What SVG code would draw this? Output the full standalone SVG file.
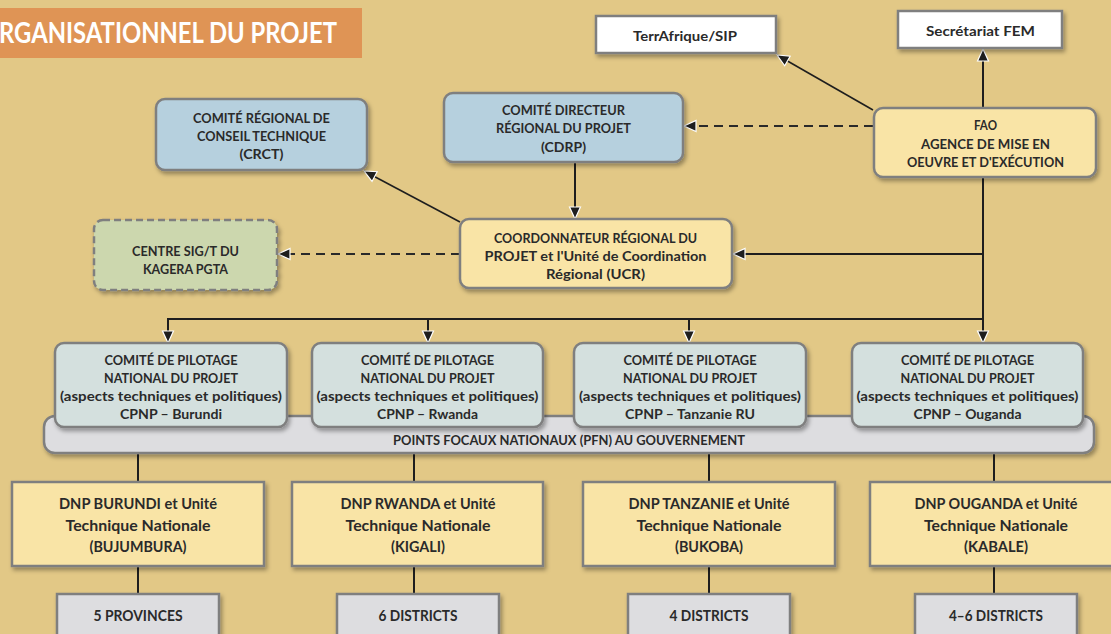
<svg xmlns="http://www.w3.org/2000/svg" width="1111" height="634" viewBox="0 0 1111 634">
<defs>
<filter id="sh" x="-10%" y="-10%" width="125%" height="135%">
<feDropShadow dx="2" dy="3" stdDeviation="2" flood-color="#000" flood-opacity="0.35"/>
</filter>
<marker id="ar" viewBox="0 0 14 14" refX="13" refY="7" markerWidth="14" markerHeight="14" markerUnits="userSpaceOnUse" orient="auto">
<path d="M1,1.5 L13,7 L1,12.5 Z" fill="#1e1e1e" stroke="#fff" stroke-width="1.2" stroke-linejoin="miter"/>
</marker>
</defs>
<style>
.bx{stroke:#7f7f7f;stroke-width:2.5;filter:url(#sh)}
.blue{fill:#b6d0de}
.yel{fill:#f9e4a6}
.pil{fill:#d4e0de}
.gry{fill:#dddde0}
.wht{fill:#ffffff}
.grn{fill:#ccd7ae;stroke-dasharray:7,4}
text{font-family:Lato,"Open Sans","Liberation Sans",sans-serif;font-weight:700;fill:#2a2a2a;text-anchor:middle;font-size:14px}
.big{font-size:15px}
.ln{fill:none;stroke:#1e1e1e;stroke-width:2}
.thin{fill:none;stroke:#1e1e1e;stroke-width:1.6}
.dash{fill:none;stroke:#2a2a2a;stroke-width:2;stroke-dasharray:9,6}
</style>
<rect x="0" y="0" width="1111" height="634" fill="#e2c886"/>
<g id="title">
<rect x="0" y="8" width="362" height="50" fill="#df9455"/>
<text x="-1" y="43" style="font-size:28px;fill:#fff;text-anchor:start" textLength="338" lengthAdjust="spacingAndGlyphs">RGANISATIONNEL DU PROJET</text>
</g>
<g id="connectors">
<line class="ln" x1="983" y1="108" x2="983" y2="49" marker-end="url(#ar)"/>
<line class="thin" x1="873" y1="110" x2="777" y2="55" marker-end="url(#ar)"/>
<line class="dash" x1="873" y1="126" x2="684" y2="126" marker-end="url(#ar)"/>
<line class="ln" x1="575" y1="162" x2="575" y2="219" marker-end="url(#ar)"/>
<line class="thin" x1="460" y1="222" x2="364" y2="171" marker-end="url(#ar)"/>
<line class="dash" x1="460" y1="254" x2="278" y2="254" marker-end="url(#ar)"/>
<path class="ln" d="M983,177 V254 H733" marker-end="url(#ar)"/>
<path class="ln" d="M983,250 V343" marker-end="url(#ar)"/>
<path class="ln" d="M983,319 H168 V343" marker-end="url(#ar)"/>
<path class="ln" d="M428,319 V343" marker-end="url(#ar)"/>
<path class="ln" d="M689,319 V343" marker-end="url(#ar)"/>
<path class="ln" d="M138,453 V482 M138,566 V594 M414,453 V482 M414,566 V594 M709,453 V482 M709,566 V594 M994,453 V482 M994,566 V594"/>
</g>
<g id="terrafrique">
<rect class="bx wht" x="596" y="16" width="180" height="37"/>
<text x="685" y="41" textLength="104" lengthAdjust="spacingAndGlyphs">TerrAfrique/SIP</text>
</g>
<g id="secretariat">
<rect class="bx wht" x="898" y="11" width="164" height="37"/>
<text x="980.5" y="35.5" textLength="109" lengthAdjust="spacingAndGlyphs">Secrétariat FEM</text>
</g>
<g id="fao">
<rect class="bx yel" x="874" y="108" width="222" height="69" rx="9"/>
<text x="985.5" y="130" textLength="23" lengthAdjust="spacingAndGlyphs">FAO</text>
<text x="985.5" y="148.5" textLength="129" lengthAdjust="spacingAndGlyphs">AGENCE DE MISE EN</text>
<text x="985.5" y="167" textLength="157" lengthAdjust="spacingAndGlyphs">OEUVRE ET D'EXÉCUTION</text>
</g>
<g id="cdrp">
<rect class="bx blue" x="444" y="93" width="239" height="69" rx="9"/>
<text x="563.5" y="115" textLength="123" lengthAdjust="spacingAndGlyphs">COMITÉ DIRECTEUR</text>
<text x="563.5" y="133" textLength="135" lengthAdjust="spacingAndGlyphs">RÉGIONAL DU PROJET</text>
<text x="563.5" y="152" textLength="45" lengthAdjust="spacingAndGlyphs">(CDRP)</text>
</g>
<g id="crct">
<rect class="bx blue" x="156" y="99" width="211" height="71" rx="9"/>
<text x="261.5" y="123" textLength="137" lengthAdjust="spacingAndGlyphs">COMITÉ RÉGIONAL DE</text>
<text x="261.5" y="141" textLength="129" lengthAdjust="spacingAndGlyphs">CONSEIL TECHNIQUE</text>
<text x="261.5" y="159" textLength="44" lengthAdjust="spacingAndGlyphs">(CRCT)</text>
</g>
<g id="ucr">
<rect class="bx yel" x="460" y="219" width="272" height="69" rx="9"/>
<text x="595.5" y="243" textLength="203" lengthAdjust="spacingAndGlyphs">COORDONNATEUR RÉGIONAL DU</text>
<text x="595.5" y="261" textLength="222" lengthAdjust="spacingAndGlyphs">PROJET et l'Unité de Coordination</text>
<text x="595.5" y="279" textLength="99" lengthAdjust="spacingAndGlyphs">Régional (UCR)</text>
</g>
<g id="centre">
<rect class="bx grn" x="94" y="220" width="183" height="70" rx="9"/>
<text x="185.5" y="256" textLength="107" lengthAdjust="spacingAndGlyphs">CENTRE SIG/T DU</text>
<text x="185.5" y="274" textLength="85" lengthAdjust="spacingAndGlyphs">KAGERA PGTA</text>
</g>
<g id="pfn">
<rect class="bx gry" x="44" y="416" width="1050" height="37" rx="11"/>
<text x="569" y="445" textLength="352" lengthAdjust="spacingAndGlyphs" style="font-size:13.5px">POINTS FOCAUX NATIONAUX (PFN) AU GOUVERNEMENT</text>
</g>
<g id="cpnp-burundi">
<rect class="bx pil" x="55" y="343" width="232" height="84" rx="9"/>
<text x="171" y="365" textLength="133" lengthAdjust="spacingAndGlyphs">COMITÉ DE PILOTAGE</text>
<text x="171" y="383" textLength="134" lengthAdjust="spacingAndGlyphs">NATIONAL DU PROJET</text>
<text x="171" y="401" textLength="222" lengthAdjust="spacingAndGlyphs">(aspects techniques et politiques)</text>
<text x="171" y="419" textLength="102" lengthAdjust="spacingAndGlyphs">CPNP – Burundi</text>
</g>
<g id="cpnp-rwanda">
<rect class="bx pil" x="312" y="343" width="231" height="84" rx="9"/>
<text x="427.5" y="365" textLength="133" lengthAdjust="spacingAndGlyphs">COMITÉ DE PILOTAGE</text>
<text x="427.5" y="383" textLength="134" lengthAdjust="spacingAndGlyphs">NATIONAL DU PROJET</text>
<text x="427.5" y="401" textLength="222" lengthAdjust="spacingAndGlyphs">(aspects techniques et politiques)</text>
<text x="427.5" y="419" textLength="101" lengthAdjust="spacingAndGlyphs">CPNP – Rwanda</text>
</g>
<g id="cpnp-tanzanie">
<rect class="bx pil" x="574" y="343" width="232" height="84" rx="9"/>
<text x="690" y="365" textLength="133" lengthAdjust="spacingAndGlyphs">COMITÉ DE PILOTAGE</text>
<text x="690" y="383" textLength="134" lengthAdjust="spacingAndGlyphs">NATIONAL DU PROJET</text>
<text x="690" y="401" textLength="222" lengthAdjust="spacingAndGlyphs">(aspects techniques et politiques)</text>
<text x="690" y="419" textLength="130" lengthAdjust="spacingAndGlyphs">CPNP – Tanzanie RU</text>
</g>
<g id="cpnp-ouganda">
<rect class="bx pil" x="852" y="343" width="231" height="84" rx="9"/>
<text x="967.5" y="365" textLength="133" lengthAdjust="spacingAndGlyphs">COMITÉ DE PILOTAGE</text>
<text x="967.5" y="383" textLength="134" lengthAdjust="spacingAndGlyphs">NATIONAL DU PROJET</text>
<text x="967.5" y="401" textLength="222" lengthAdjust="spacingAndGlyphs">(aspects techniques et politiques)</text>
<text x="967.5" y="419" textLength="108" lengthAdjust="spacingAndGlyphs">CPNP – Ouganda</text>
</g>
<g id="dnp-burundi">
<rect class="bx yel" x="12" y="482" width="252" height="84"/>
<text class="big" x="138" y="509" textLength="158" lengthAdjust="spacingAndGlyphs">DNP BURUNDI et Unité</text>
<text class="big" x="138" y="531" textLength="145" lengthAdjust="spacingAndGlyphs">Technique Nationale</text>
<text class="big" x="138" y="552" textLength="97" lengthAdjust="spacingAndGlyphs">(BUJUMBURA)</text>
</g>
<g id="dnp-rwanda">
<rect class="bx yel" x="292" y="482" width="251" height="84"/>
<text class="big" x="418" y="509" textLength="155" lengthAdjust="spacingAndGlyphs">DNP RWANDA et Unité</text>
<text class="big" x="418" y="531" textLength="145" lengthAdjust="spacingAndGlyphs">Technique Nationale</text>
<text class="big" x="418" y="552" textLength="54" lengthAdjust="spacingAndGlyphs">(KIGALI)</text>
</g>
<g id="dnp-tanzanie">
<rect class="bx yel" x="583" y="482" width="252" height="84"/>
<text class="big" x="709" y="509" textLength="161" lengthAdjust="spacingAndGlyphs">DNP TANZANIE et Unité</text>
<text class="big" x="709" y="531" textLength="145" lengthAdjust="spacingAndGlyphs">Technique Nationale</text>
<text class="big" x="709" y="552" textLength="68" lengthAdjust="spacingAndGlyphs">(BUKOBA)</text>
</g>
<g id="dnp-ouganda">
<rect class="bx yel" x="870" y="482" width="252" height="84"/>
<text class="big" x="996" y="509" textLength="163" lengthAdjust="spacingAndGlyphs">DNP OUGANDA et Unité</text>
<text class="big" x="996" y="531" textLength="144" lengthAdjust="spacingAndGlyphs">Technique Nationale</text>
<text class="big" x="996" y="552" textLength="64" lengthAdjust="spacingAndGlyphs">(KABALE)</text>
</g>
<g id="burundi-provinces">
<rect class="bx gry" x="57" y="594" width="162" height="50"/>
<text class="big" x="138" y="621" textLength="89" lengthAdjust="spacingAndGlyphs">5 PROVINCES</text>
</g>
<g id="rwanda-districts">
<rect class="bx gry" x="337" y="594" width="162" height="50"/>
<text class="big" x="418" y="621" textLength="79" lengthAdjust="spacingAndGlyphs">6 DISTRICTS</text>
</g>
<g id="tanzanie-districts">
<rect class="bx gry" x="628" y="594" width="162" height="50"/>
<text class="big" x="709" y="621" textLength="79" lengthAdjust="spacingAndGlyphs">4 DISTRICTS</text>
</g>
<g id="ouganda-districts">
<rect class="bx gry" x="915" y="594" width="162" height="50"/>
<text class="big" x="996" y="621" textLength="94" lengthAdjust="spacingAndGlyphs">4–6 DISTRICTS</text>
</g>
</svg>
